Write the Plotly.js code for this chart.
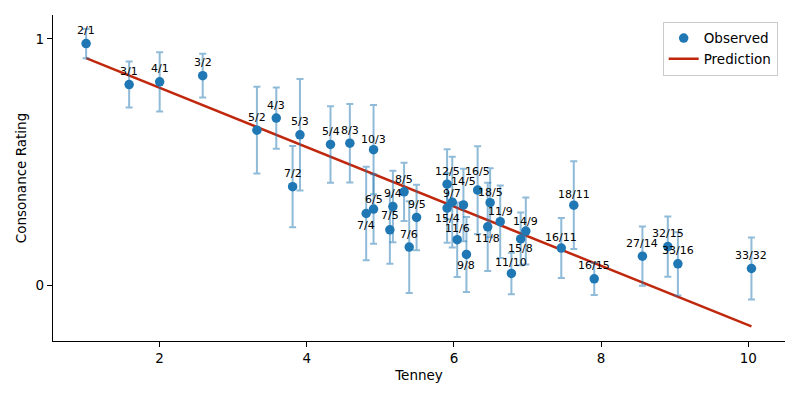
<!DOCTYPE html>
<html>
<head>
<meta charset="utf-8">
<script src="https://cdn.plot.ly/plotly-3.0.1.min.js"></script>
<style>html,body{margin:0;padding:0;background:#fff;}#chart{width:800px;height:400px;}</style>
</head>
<body>
<div id="chart"></div>
<script>
// Interval ratios
const ratios = ['2/1','3/1','4/1','3/2','5/2','4/3','5/3','7/2','5/4','8/3','10/3','6/5','7/4','9/4','7/5','8/5','9/5','7/6','12/5','15/4','9/7','14/5','11/6','16/5','9/8','18/5','11/8','11/9','11/10','15/8','14/9','16/11','18/11','16/15','27/14','32/15','33/16','33/32'];
// Tenney height (x)
const tenney = [1, 1.585, 2, 2.585, 3.322, 3.585, 3.907, 3.807, 4.322, 4.585, 4.907, 4.907, 4.807, 5.170, 5.129, 5.322, 5.492, 5.392, 5.907, 5.907, 5.977, 6.129, 6.044, 6.322, 6.170, 6.492, 6.459, 6.629, 6.781, 6.907, 6.977, 7.459, 7.629, 7.907, 8.562, 8.907, 9.044, 10.044];
// Observed consonance rating (y)
const rating = [0.981,0.815,0.826,0.851,0.630,0.679,0.611,0.401,0.572,0.577,0.551,0.310,0.292,0.320,0.226,0.380,0.276,0.156,0.411,0.314,0.338,0.327,0.186,0.387,0.126,0.336,0.238,0.259,0.049,0.189,0.221,0.152,0.326,0.027,0.119,0.158,0.088,0.069];
// Error (half-length of error bars)
const ratingErr = [0.059,0.093,0.120,0.089,0.176,0.124,0.226,0.165,0.155,0.159,0.181,0.141,0.190,0.145,0.138,0.118,0.133,0.186,0.142,0.141,0.184,0.147,0.151,0.178,0.152,0.140,0.179,0.147,0.084,0.107,0.136,0.122,0.178,0.065,0.120,0.122,0.128,0.126];
// Prediction line endpoints
const predX = [1, 10.044];
const predY = [0.922, -0.166];

// label placement (pixels, positive = above point)
const labelShift = [13,13,13,13,13,13,13,13,13,13,10,10,-12,13,14,12,13,13,13,-10,9,23,11,19,-11,10,-12,10,11,-10,10,11,11,13,13,13,13,13];

const FONT = 'DejaVu Sans, sans-serif';

const traces = [
  {
    x: predX, y: predY, mode: 'lines', name: 'Prediction', legendrank: 2,
    line: {color: '#c0280e', width: 2.5}, hoverinfo: 'skip'
  },
  {
    x: tenney, y: rating, mode: 'markers', name: 'Observed', legendrank: 1,
    marker: {color: '#1f77b4', size: 9.5},
    error_y: {type: 'data', array: ratingErr, visible: true, color: 'rgba(31,119,180,0.5)', thickness: 2, width: 3.5}
  }
];

const annotations = ratios.map((r, i) => ({
  x: tenney[i], y: rating[i], text: r, showarrow: false,
  xanchor: 'center', yanchor: 'middle', yshift: labelShift[i],
  font: {family: FONT, size: 11, color: '#000'}
}));

const layout = {
  width: 800, height: 400,
  margin: {l: 53, r: 15, t: 15, b: 59},
  paper_bgcolor: '#fff', plot_bgcolor: '#fff',
  font: {family: FONT, size: 13.5, color: '#000'},
  showlegend: true,
  legend: {
    x: 0.99, y: 0.979, xanchor: 'right', yanchor: 'top',
    bordercolor: '#cccccc', borderwidth: 1, bgcolor: 'rgba(255,255,255,0.8)',
    font: {family: FONT, size: 13.5, color: '#000'}
  },
  xaxis: {
    range: [0.55, 10.5], tickvals: [2,4,6,8,10], ticktext: ['2','4','6','8','10'],
    showline: true, linecolor: '#000', linewidth: 1.1, mirror: false,
    ticks: 'outside', ticklen: 5, tickwidth: 1.1, tickcolor: '#000',
    showgrid: false, zeroline: false,
    title: {text: 'Tenney', font: {family: FONT, size: 13.5}, standoff: 5}
  },
  yaxis: {
    range: [-0.225, 1.097], tickvals: [0, 1], ticktext: ['0','1'],
    showline: true, linecolor: '#000', linewidth: 1.1, mirror: false,
    ticks: 'outside', ticklen: 5, tickwidth: 1.1, tickcolor: '#000',
    showgrid: false, zeroline: false,
    title: {text: 'Consonance Rating', font: {family: FONT, size: 13.5}, standoff: 5}
  },
  annotations: annotations
};

Plotly.newPlot('chart', traces, layout, {displayModeBar: false, staticPlot: true});
</script>
</body>
</html>
